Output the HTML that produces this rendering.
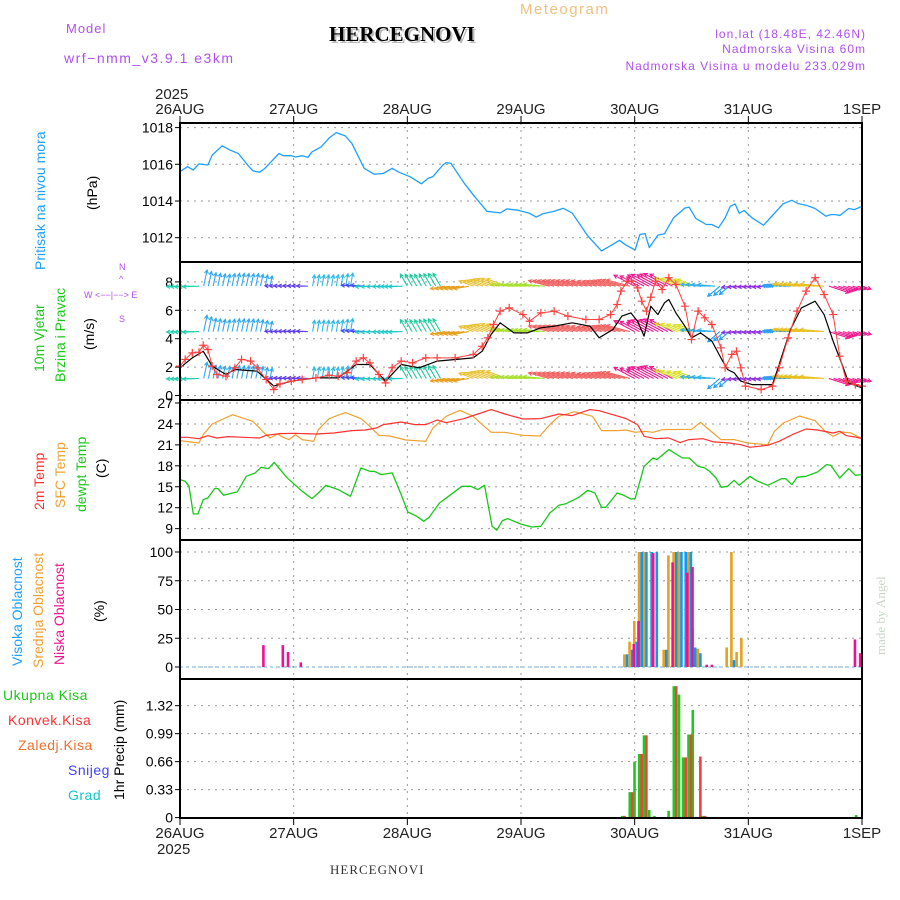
<!DOCTYPE html>
<html><head><meta charset="utf-8"><style>
body{margin:0;background:#fff}
svg{display:block}
text{font-family:"Liberation Sans",sans-serif}
</style></head><body>
<svg id="chart" width="900" height="900" viewBox="0 0 900 900" xmlns="http://www.w3.org/2000/svg">
<rect width="900" height="900" fill="#fff"/>
<g id="head">
<text x="66" y="33" font-size="13" fill="#b050f0" letter-spacing="1">Model</text>
<text x="64" y="63" font-size="14" fill="#b050f0" letter-spacing="1.5">wrf−nmm_v3.9.1 e3km</text>
<text x="520" y="14" font-size="15" fill="#f0c080" letter-spacing="1.5">Meteogram</text>
<text x="331" y="43" font-size="21" font-weight="bold" fill="#bbb" style="font-family:'Liberation Serif',serif">HERCEGNOVI</text>
<text x="329" y="41" font-size="21" font-weight="bold" fill="#000" style="font-family:'Liberation Serif',serif">HERCEGNOVI</text>
<text x="866" y="38" font-size="12" fill="#b050f0" text-anchor="end" letter-spacing="1">lon,lat (18.48E, 42.46N)</text>
<text x="866" y="53" font-size="12" fill="#b050f0" text-anchor="end" letter-spacing="1">Nadmorska Visina 60m</text>
<text x="866" y="70" font-size="12" fill="#b050f0" text-anchor="end" letter-spacing="1">Nadmorska Visina u modelu 233.029m</text>
<text transform="translate(885,655) rotate(-90)" font-size="13" fill="#c8d8c8" style="font-family:'Liberation Serif',serif">made by Angel</text>
<text x="330" y="874" font-size="13" fill="#333" style="font-family:'Liberation Serif',serif" letter-spacing="1">HERCEGNOVI</text>
</g>
<g id="panels"></g>
<g id="labels">
<text transform="translate(45,270) rotate(-90)" font-size="14" fill="#1fa0ff">Pritisak na nivou mora</text>
<text transform="translate(97,210) rotate(-90)" font-size="14" fill="#000">(hPa)</text>
<text transform="translate(44,372) rotate(-90)" font-size="14" fill="#18c818">10m Vjetar</text>
<text transform="translate(65,382) rotate(-90)" font-size="14" fill="#18c818">Brzina i Pravac</text>
<text transform="translate(94,350) rotate(-90)" font-size="14" fill="#000">(m/s)</text>
<text x="119" y="270" font-size="9" fill="#b050f0">N</text>
<text x="119" y="282" font-size="9" fill="#b050f0">^</text>
<text x="84" y="298" font-size="9" fill="#b050f0">W  &lt;−−|−−&gt;  E</text>
<text x="119" y="322" font-size="9" fill="#b050f0">S</text>
<text transform="translate(44,510) rotate(-90)" font-size="14" fill="#ff3030">2m Temp</text>
<text transform="translate(65,508) rotate(-90)" font-size="14" fill="#f0a030">SFC Temp</text>
<text transform="translate(86,512) rotate(-90)" font-size="14" fill="#18c818">dewpt Temp</text>
<text transform="translate(106,478) rotate(-90)" font-size="14" fill="#000">(C)</text>
<text transform="translate(22,666) rotate(-90)" font-size="14" fill="#1fa0ff">Visoka Oblacnost</text>
<text transform="translate(43,668) rotate(-90)" font-size="14" fill="#f0a030">Srednja Oblacnost</text>
<text transform="translate(64,665) rotate(-90)" font-size="14" fill="#f01090">Niska Oblacnost</text>
<text transform="translate(104,622) rotate(-90)" font-size="14" fill="#000">(%)</text>
<text x="3" y="700" font-size="14" fill="#18c818" letter-spacing="0.5">Ukupna Kisa</text>
<text x="8" y="725" font-size="14" fill="#ff3030" letter-spacing="0.5">Konvek.Kisa</text>
<text x="18" y="750" font-size="14" fill="#f07030" letter-spacing="0.5">Zaledj.Kisa</text>
<text x="68" y="775" font-size="14" fill="#4040ff" letter-spacing="0.5">Snijeg</text>
<text x="68" y="800" font-size="14" fill="#10c8c8" letter-spacing="0.5">Grad</text>
<text transform="translate(124,800) rotate(-90)" font-size="14" fill="#000">1hr Precip (mm)</text>
</g>
</svg>
<script>
// ---------- data ----------
const dayLabels=["26AUG","27AUG","28AUG","29AUG","30AUG","31AUG","1SEP"];
const presTicks=[1012,1014,1016,1018];
const windTicks=[0,2,4,6,8];
const tempTicks=[9,12,15,18,21,24,27];
const cloudTicks=[0,25,50,75,100];
const precipTicks=[0,0.33,0.66,0.99,1.32];
const precipTickLabels=["0","0.33","0.66","0.99","1.32"];

const presHours=[0,1.6,2.8,4,5.9,6.8,8.9,10.6,12.3,14,15.4,16.8,17.8,20.9,21.8,23.5,24.4,25.8,27,27.9,29.8,31.5,33,34.9,36.3,38.9,41,42.9,44.8,46.2,48.6,51,52.4,53.4,55.5,56.2,57.2,60,61.9,64.8,67.6,69,71.4,73.8,75.2,76.6,79,80.9,82.8,86.1,89,91.4,92.8,94.2,96.1,97.1,98.2,99.1,100.9,102.3,104.2,106.6,107.5,108.9,111.1,112.3,113.7,115.1,116.2,117.2,118.1,119.1,120.8,123.2,125.1,127.3,129.2,130.5,132.2,134.1,136.4,137.4,138.4,139.3,141.2,142.4,144];
const presVals=[1015.6,1015.87,1015.69,1016.02,1015.96,1016.5,1017.01,1016.77,1016.59,1016.05,1015.64,1015.57,1015.75,1016.59,1016.47,1016.47,1016.4,1016.47,1016.38,1016.68,1016.95,1017.44,1017.73,1017.55,1017.14,1015.78,1015.46,1015.5,1015.78,1015.57,1015.32,1014.94,1015.24,1015.33,1015.96,1016.09,1016.05,1014.97,1014.34,1013.44,1013.35,1013.57,1013.5,1013.33,1013.12,1013.3,1013.44,1013.6,1013.35,1012.09,1011.28,1011.64,1011.86,1011.59,1011.33,1012.18,1012.22,1011.46,1012.14,1012.22,1013.08,1013.62,1013.66,1013.05,1012.72,1012.72,1012.54,1013.08,1013.71,1013.84,1013.33,1013.48,1013.08,1012.68,1013.21,1013.84,1014.04,1013.86,1013.77,1013.59,1013.17,1013.26,1013.26,1013.21,1013.59,1013.53,1013.71];

const gustHours=[0,1.1,2.6,4,4.9,5.9,6.8,7.8,9.7,11.6,13,14.9,16.3,18.2,19.8,21.1,23.5,25.8,28.7,31.5,33.4,35.3,37.2,38.7,40.1,42,43.4,44.8,46.7,49.1,51.9,54.3,58.1,61.9,63.8,65,66.2,67.6,69.5,72.4,73.8,76.2,79,81.9,85.7,88.5,90.9,92.3,93.1,94.4,95.3,96.6,97.5,98.5,99.4,100.4,101.8,103.2,104.7,106.6,108,109.4,110.8,112.3,114.2,115.1,116.5,117.5,118.4,119.4,122.7,125.1,126.5,128.4,130.3,132.2,134.1,136,137.9,139.3,140.7,142.6,144];
const gustVals=[2.07,2.54,3.0,3.05,3.54,3.24,2.07,1.48,1.36,1.95,2.54,2.42,1.95,1.13,0.42,0.82,1.01,1.13,1.24,1.43,1.36,1.6,2.42,2.65,2.3,1.48,0.89,1.95,2.42,2.3,2.65,2.65,2.65,2.89,3.47,4.06,5.0,5.94,6.17,5.7,5.23,5.82,5.94,5.59,5.35,5.35,5.7,6.41,7.35,8.05,8.05,7.58,6.64,5.94,6.92,8.05,7.46,8.29,7.82,6.29,3.94,5.94,5.47,5.0,3.36,1.95,2.89,3.12,1.95,0.66,0.42,0.66,1.95,4.06,5.94,7.35,8.29,7.11,5.7,2.77,1.01,0.77,0.66];
const speedHours=[0,2.6,4.9,6.8,9.7,11.6,16.3,19.8,23.5,28.7,33.4,37.2,40.1,43.4,46.7,50.5,54.3,61.9,63.8,65.7,67.6,70.5,73.3,76.2,79,82.8,86.6,88.5,91.4,93.3,95.2,96.6,98,99.4,100.9,102.3,103.2,104.7,106.6,108,109.9,112.3,114.2,115.6,117,118.4,120.8,125.1,126.5,128.9,131.2,134.1,136,137.9,139.8,141.2,144];
const speedVals=[1.95,2.65,3.12,2.07,1.48,1.83,1.71,0.66,1.01,1.24,1.24,2.18,2.18,1.01,2.18,1.95,2.42,2.65,3.12,4.3,5.12,4.41,4.41,4.77,4.88,5.12,4.88,4.06,4.65,5.59,5.82,5.23,4.18,6.29,5.7,6.53,6.76,5.82,4.88,4.06,4.41,3.83,2.65,1.83,1.6,1.01,0.77,0.77,2.18,4.65,6.17,6.64,5.7,3.83,2.18,0.89,0.54];

// wind direction segments: start hour, arrow angle (deg, 0=E, 90=N), colour
const dirHours=[0,5,20,28,37,40,48,56,62,70,78,96,105,110,114,117,125,130,137];
const dirAngles=[182,78,178,80,176,182,120,190,160,175,165,152,160,175,220,185,178,175,-18];
const dirColors=["#20d0b0","#30a8f0","#6040e8","#30b8e8","#4050f0","#20c8c8","#20c8a0","#e8a020","#e8c030","#a8e030","#f06060","#f01890","#d8e020","#30b0f0","#20a0f0","#9030e0","#30a0f0","#e8c020","#f01890"];
const windRows=[7.7,4.5,1.2];

const t2Hours=[0,1.6,4,5.9,7.8,10.2,13.5,16.8,18.2,21.1,23.9,28.7,32.5,36.3,39.1,41.5,42.9,46.7,49.6,51.9,54.3,56.2,60,62.9,65.7,68.6,72.4,76.2,80,82.8,86.6,88.5,91.4,94.2,96.6,98,100.4,103.2,105.6,107.5,110.4,112.7,116,118.4,120.3,124.1,126.5,129.3,132.2,134.6,137.9,139.3,140.7,142.6,144];
const t2Vals=[22.08,22.08,21.89,22.32,21.99,22.18,22.08,21.99,22.37,22.61,22.66,22.56,22.7,23.04,23.13,23.42,23.9,24.28,23.9,23.9,24.57,24.18,24.76,25.42,26.05,25.42,24.71,24.76,25.42,25.19,26.05,25.9,25.33,24.76,23.9,22.23,21.89,21.99,21.32,21.75,21.89,21.42,21.27,21.03,20.65,20.94,21.51,22.47,23.28,23.13,22.7,22.94,22.32,22.13,21.89];
const sfcHours=[0,2.1,4,4.9,6.8,11.1,15.4,17.8,19,20.6,21.8,23,24.4,25.8,28.2,29.2,31.5,34.9,38.2,40.1,42,44.3,47.7,51.9,53.4,56.2,59.1,61.9,63.8,65.7,68.6,72.4,76,78.1,80,83.3,87.1,89,92.3,94.2,96.1,98,99.9,101.8,108,109.9,111.3,114.2,117,119.8,124.1,125.5,127.4,130.8,134.1,136.2,137.9,139.8,141.7,144];
const sfcVals=[21.61,21.42,21.27,22.47,23.99,25.33,24.37,22.7,21.99,22.56,22.08,21.75,22.47,21.75,21.51,23.18,24.76,25.62,24.76,23.66,22.37,22.27,21.7,21.51,23.42,25.09,25.95,25.09,23.9,22.8,22.8,22.37,22.27,23.9,25.09,25.76,25.09,23.04,23.04,23.13,22.8,22.94,22.8,23.18,23.23,24.23,23.42,21.75,21.75,21.27,21.03,22.94,24.14,25.14,24.47,22.94,22.23,22.85,22.7,21.89];
const dewHours=[0,1.1,1.9,2.8,3.8,4.9,5.9,7.3,8,9.2,12.1,14,15.9,17.1,18.7,19.9,22.5,25.8,27.9,29.2,30.8,33.4,34.9,36,38.2,40.1,41,42.5,44.8,46.7,48.1,50,51.5,52.6,54.8,56.7,59.5,61.4,62.9,64.3,65.9,66.9,68.1,69.2,71.9,74.3,76.2,78.1,80,81.4,84.2,86.1,87.6,89,89.9,92.3,93.7,95.2,96.1,98,99.9,100.7,103.2,106.1,107.5,109.4,110.8,111.8,113.2,114.3,115.6,117,118.1,120.3,121.7,124.1,127,127.9,129.2,130.3,132.2,134.6,136.5,137.4,139.3,141.2,142.6,144];
const dewVals=[16.02,15.78,15.07,11.11,11.11,13.16,13.4,14.73,14.73,13.78,14.26,16.5,16.98,17.79,17.6,18.5,16.36,14.35,13.3,14.11,15.21,14.59,14.02,13.63,17.69,17.21,17.21,16.74,16.98,13.87,11.39,10.77,10.05,10.63,12.68,13.63,15.07,15.07,14.59,15.21,9.34,8.77,10.15,10.44,9.67,9.24,9.34,11.25,12.35,12.54,13.49,14.49,14.11,12.06,12.06,14.11,13.78,13.25,13.3,17.93,19.12,18.89,20.32,19.12,19.12,17.93,17.69,17.21,16.26,14.92,15.07,15.93,15.21,16.5,15.88,15.21,16.16,16.16,15.31,16.36,16.5,17.12,18.17,18.07,16.26,17.6,16.64,16.74];

const highHours=[94.1,95.2,96.2,97.2,98.2,99.3,100.4,102.4,104.5,105.6,106.5,107.6,108.5,109.6,116.7];
const highVals=[11,15,22,100,100,100,100,15,100,100,100,100,17,12,6];
const midHours=[94.1,95.2,96.2,97.2,98.2,102.4,103.4,104.5,105.6,107.6,108.5,109.6,115.7,116.7,117.8,118.8];
const midVals=[11,22,40,100,100,15,97,100,100,100,34,16,17,100,13,25];
const lowHours=[17,21.1,22.2,24.9,95.2,96.2,99.3,103.4,106.5,107.6,110.6,111.7,141.9,143];
const lowVals=[19,19,13,4,20,40,99,91,82,87,2,2,24,12];

const rainHours=[93.6,95.2,96.2,97.2,98.2,99.3,100.4,103.4,104.5,105.6,106.5,107.6,108.5,109.6,110.6,143];
const totalVals=[0.02,0.30,0.66,0.75,0.97,0.09,0.02,0.08,1.55,1.45,0.71,0.98,1.27,0,0.02,0.03];
const convVals=[0.02,0.30,0,0.75,0.97,0,0,0,1.55,0,0.71,0.98,0,0.72,0.02,0];

// ---------- axes ----------
const X0=180,X1=862,HRS=144;
const xh=h=>X0+(X1-X0)*h/HRS;
const P={pres:[123,262],wind:[262,400],temp:[400,540],cloud:[540,679],precip:[679,818]};
const yPres=v=>164.3-(v-1016)*18.35;
const yWind=v=>395.5-v*14.2;
const yTemp=v=>403+(27-v)*6.98;
const yCloud=v=>667-v*1.15;
const yPrecip=v=>817.6-v*84.8;

const NS="http://www.w3.org/2000/svg";
const root=document.getElementById('panels');
function mk(tag,attrs,parent){const e=document.createElementNS(NS,tag);for(const k in attrs)e.setAttribute(k,attrs[k]);(parent||root).appendChild(e);return e;}
function poly(hs,vs,yf,color,w){let d='';hs.forEach((h,i)=>{d+=(i?'L':'M')+xh(h).toFixed(1)+','+yf(vs[i]).toFixed(1);});return mk('path',{d:d,fill:'none',stroke:color,'stroke-width':w||1.2,'stroke-linejoin':'round'});}

function panel(name,key,ticks,yf,labels){
  const [t,b]=P[key];
  const g=mk('g',{});
  
  
  for(let d=1;d<6;d++){const x=xh(d*24);mk('line',{x1:x,x2:x,y1:t,y2:b,stroke:'#999','stroke-dasharray':'2,5','stroke-width':1},g);}
  ticks.forEach((v,i)=>{const y=yf(v);
    mk('line',{x1:X0,x2:X1,y1:y,y2:y,stroke:'#999','stroke-dasharray':'2,5','stroke-width':1},g);
    mk('line',{x1:X0-5,x2:X0,y1:y,y2:y,stroke:'#000','stroke-width':1},g);
    const tx=mk('text',{x:X0-7,y:y+5,'font-size':14,'text-anchor':'end',fill:'#000'},g);
    
    
    tx.textContent=labels?labels[i]:String(v);
  });
  return g;
}
panel('pressure','pres',presTicks,yPres);
panel('wind','wind',windTicks,yWind);
panel('temperature','temp',tempTicks,yTemp);
panel('cloud','cloud',cloudTicks,yCloud);
panel('precip','precip',precipTicks,yPrecip,precipTickLabels);

// pressure
const pl=poly(presHours,presVals,yPres,'#1fa0ff',1.3);



// wind arrows
function dirIndex(h){let k=0;for(let i=0;i<dirHours.length;i++)if(h>=dirHours[i])k=i;return k;}
function speedAt(h){for(let i=1;i<speedHours.length;i++){if(h<=speedHours[i]){const f=(h-speedHours[i-1])/(speedHours[i]-speedHours[i-1]);return speedVals[i-1]+f*(speedVals[i]-speedVals[i-1]);}}return speedVals[speedVals.length-1];}
const wg=mk('g',{});


windRows.forEach(rv=>{
  for(let h=0;h<=HRS;h++){
    const k=dirIndex(h);const a=dirAngles[k]*Math.PI/180;const c=dirColors[k];
    const L=8+speedAt(h)*2.8;const x=xh(h),y=yWind(rv);
    const x2=x+L*Math.cos(a),y2=y-L*Math.sin(a);
    const ar=mk('path',{d:`M${x},${y}L${x2},${y2}M${x2-4*Math.cos(a-0.5)},${y2+4*Math.sin(a-0.5)}L${x2},${y2}L${x2-4*Math.cos(a+0.5)},${y2+4*Math.sin(a+0.5)}`,stroke:c,'stroke-width':1.1,fill:'none'},wg);
    
    
  }
});
const sl=poly(speedHours,speedVals,yWind,'#000',1.2);


const gl=poly(gustHours,gustVals,yWind,'#ff4040',1);


gustHours.forEach((h,i)=>{const x=xh(h),y=yWind(gustVals[i]);
  const m=mk('path',{d:`M${x-4},${y}H${x+4}M${x},${y-4}V${y+4}`,stroke:'#ff4040','stroke-width':1.2});
  
  });

// temps
const tl1=poly(sfcHours,sfcVals,yTemp,'#f0a030',1.2);


const tl2=poly(t2Hours,t2Vals,yTemp,'#ff3030',1.2);


const tl3=poly(dewHours,dewVals,yTemp,'#18c818',1.3);



// clouds
mk('line',{x1:X0,x2:X1,y1:yCloud(0),y2:yCloud(0),stroke:'#a0c8e8','stroke-width':1.5,'stroke-dasharray':'3,3'});
function bars(hs,vs,yf,color,off,name){hs.forEach((h,i)=>{if(vs[i]<=0)return;const y=yf(vs[i]);
  const r=mk('rect',{x:xh(h)+off,y:y,width:2.6,height:yf(0)-y,fill:color});
  
  });}
bars(midHours,midVals,yCloud,'#e8a020',-2.6,'cloud-mid-bar');
bars(highHours,highVals,yCloud,'#1098f0',0,'cloud-high-bar');
bars(lowHours,lowVals,yCloud,'#f01090',1.6,'cloud-low-bar');
// precip
bars(rainHours,totalVals,yPrecip,'#20c820',-2.4,'precip-total-bar');
bars(rainHours,convVals,yPrecip,'#f04040',0,'precip-conv-bar');

// borders
Object.keys(P).forEach(k=>{const [t,b]=P[k];const r=mk('rect',{x:X0,y:t,width:X1-X0,height:b-t,fill:'none',stroke:'#000','stroke-width':2});
  
  });
// day axis labels
dayLabels.forEach((d,i)=>{const x=xh(i*24);
  mk('line',{x1:x,x2:x,y1:116,y2:123,stroke:'#000'});
  mk('line',{x1:x,x2:x,y1:818,y2:825,stroke:'#000'});
  const a=mk('text',{x:x,y:114,'font-size':15,'text-anchor':'middle',fill:'#222'});
  
  
  a.textContent=d;
  const b=mk('text',{x:x,y:838,'font-size':15,'text-anchor':'middle',fill:'#222'});
  
  
  b.textContent=d;});
const y1=mk('text',{x:155,y:99,'font-size':15,fill:'#222'});


y1.textContent='2025';
const y2=mk('text',{x:157,y:854,'font-size':15,fill:'#222'});


y2.textContent='2025';
</script>
</body></html>
